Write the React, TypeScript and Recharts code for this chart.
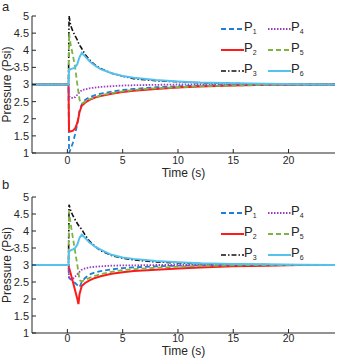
import React from "react";
import { LineChart, Line, XAxis, YAxis } from "recharts";

const TIME = [-3.2, 0.1, 0.15, 0.3, 0.5, 0.7, 0.9, 1.0, 1.1, 1.3, 1.6, 2, 2.5, 3, 4, 5, 6, 8, 10, 12, 15, 18, 21, 24.2];

const A_P1 = [3, 3, 1.0, 1.12, 1.3, 1.55, 1.85, 2.05, 2.25, 2.42, 2.55, 2.63, 2.69, 2.73, 2.79, 2.84, 2.87, 2.92, 2.95, 2.97, 2.99, 3, 3, 3];
const A_P2 = [3, 3, 1.65, 1.63, 1.65, 1.72, 1.88, 2.02, 2.2, 2.38, 2.47, 2.55, 2.62, 2.66, 2.73, 2.78, 2.82, 2.87, 2.91, 2.94, 2.97, 2.99, 3, 3];
const A_P3 = [3, 3, 5, 4.72, 4.55, 4.42, 4.3, 4.22, 4.15, 4.05, 3.88, 3.72, 3.57, 3.47, 3.33, 3.24, 3.17, 3.11, 3.08, 3.05, 3.03, 3.01, 3, 3];
const A_P4 = [3, 3, 2.66, 2.62, 2.6, 2.63, 2.7, 2.74, 2.78, 2.83, 2.86, 2.89, 2.91, 2.93, 2.95, 2.97, 2.98, 2.99, 3, 3, 3, 3, 3, 3];
const A_P5 = [3, 3, 4.5, 4.15, 3.85, 3.5, 3.0, 2.78, 2.55, 2.44, 2.5, 2.57, 2.63, 2.68, 2.75, 2.8, 2.84, 2.89, 2.92, 2.95, 2.97, 2.99, 3, 3];
const A_P6 = [3, 3, 3.42, 3.45, 3.47, 3.5, 3.6, 3.7, 3.8, 3.92, 3.82, 3.68, 3.55, 3.45, 3.33, 3.25, 3.2, 3.13, 3.09, 3.06, 3.04, 3.02, 3.01, 3];

const B_P1 = [3, 3, 2.62, 2.58, 2.53, 2.47, 2.41, 2.38, 2.35, 2.5, 2.62, 2.72, 2.78, 2.82, 2.87, 2.91, 2.93, 2.96, 2.98, 2.99, 3, 3, 3, 3];
const B_P2 = [3, 3, 2.92, 2.75, 2.5, 2.25, 2.0, 1.85, 2.15, 2.38, 2.47, 2.55, 2.62, 2.67, 2.74, 2.79, 2.82, 2.86, 2.9, 2.93, 2.96, 2.98, 3, 3];
const B_P3 = [3, 3, 4.77, 4.6, 4.45, 4.33, 4.22, 4.17, 4.12, 4.05, 3.88, 3.7, 3.55, 3.42, 3.28, 3.2, 3.15, 3.09, 3.06, 3.04, 3.02, 3.01, 3, 3];
const B_P4 = [3, 3, 2.6, 2.58, 2.6, 2.66, 2.73, 2.77, 2.8, 2.86, 2.9, 2.93, 2.95, 2.96, 2.98, 2.99, 2.99, 3, 3, 3, 3, 3, 3, 3];
const B_P5 = [3, 3, 4.58, 4.2, 3.8, 3.4, 3.0, 2.78, 2.55, 2.52, 2.56, 2.62, 2.68, 2.73, 2.8, 2.85, 2.88, 2.92, 2.95, 2.97, 2.99, 3, 3, 3];
const B_P6 = [3, 3, 3.4, 3.43, 3.46, 3.5, 3.6, 3.7, 3.8, 3.89, 3.8, 3.66, 3.54, 3.45, 3.3, 3.22, 3.18, 3.12, 3.08, 3.05, 3.03, 3.02, 3.01, 3];

const X_TICKS = [0, 5, 10, 15, 20];
const Y_TICKS = [1, 1.5, 2, 2.5, 3, 3.5, 4, 4.5, 5];
const X_DOMAIN: [number, number] = [-3.2, 24.2];

const SERIES = [
  { key: "p1", sub: "1", color: "#1f7fd6", dash: "5 3", width: 1.8 },
  { key: "p2", sub: "2", color: "#ff1a1a", dash: undefined, width: 2 },
  { key: "p3", sub: "3", color: "#111111", dash: "5 2 1.5 2", width: 1.6 },
  { key: "p4", sub: "4", color: "#9b3fbf", dash: "1.5 1.5", width: 1.8 },
  { key: "p5", sub: "5", color: "#7cb342", dash: "5 3", width: 1.8 },
  { key: "p6", sub: "6", color: "#55c1ef", dash: undefined, width: 2 },
];

// legend order: two columns, P1-P3 on the left, P4-P6 on the right
const LEGEND_ORDER = ["p1", "p4", "p2", "p5", "p3", "p6"];

const FONT = "'Liberation Sans', Arial, sans-serif";
const INK = "#262626";

function buildRows(cols: number[][]) {
  return TIME.map((t, i) => ({
    t,
    p1: cols[0][i],
    p2: cols[1][i],
    p3: cols[2][i],
    p4: cols[3][i],
    p5: cols[4][i],
    p6: cols[5][i],
  }));
}

function LegendBox({ top }: { top: number }) {
  return (
    <div
      style={{
        position: "absolute",
        left: 221,
        top,
        display: "grid",
        gridTemplateColumns: "47px 47px",
        fontFamily: FONT,
        fontSize: 13,
        color: INK,
      }}
    >
      {LEGEND_ORDER.map((k) => {
        const s = SERIES.find((x) => x.key === k)!;
        return (
          <div key={k} style={{ display: "flex", alignItems: "center", height: 21 }}>
            <svg width={23} height={6}>
              <line x1={0} y1={3} x2={23} y2={3} stroke={s.color} strokeWidth={s.width} strokeDasharray={s.dash} />
            </svg>
            <span style={{ marginLeft: 0, lineHeight: "13px" }}>
              P<sub style={{ fontSize: 7, verticalAlign: "-3px" }}>{s.sub}</sub>
            </span>
          </div>
        );
      })}
    </div>
  );
}

function Panel({ rows, top, height, labelOffset, tickGap }: { rows: any[]; top: number; height: number; labelOffset: number; tickGap: number }) {
  return (
    <LineChart
      width={339}
      height={height}
      data={rows}
      margin={{ top, right: 4, bottom: 4, left: 4 }}
      style={{ fontFamily: FONT }}
    >
      <XAxis
        dataKey="t"
        type="number"
        domain={X_DOMAIN}
        ticks={X_TICKS}
        allowDataOverflow
        height={25}
        stroke={INK}
        tickSize={-4}
        tickMargin={tickGap}
        tick={{ fill: INK, fontSize: 10.5 }}
        label={{ value: "Time (s)", position: "insideBottom", offset: labelOffset, fill: INK, fontSize: 12 }}
      />
      <XAxis
        xAxisId="top"
        dataKey="t"
        type="number"
        orientation="top"
        domain={X_DOMAIN}
        ticks={X_TICKS}
        allowDataOverflow
        height={0}
        stroke={INK}
        tickSize={-4}
        tickFormatter={() => ""}
      />
      <YAxis
        domain={[1, 5]}
        ticks={Y_TICKS}
        width={28}
        stroke={INK}
        tickSize={-4}
        tickMargin={7}
        tick={{ fill: INK, fontSize: 11 }}
        allowDataOverflow
        label={{ value: "Pressure (Psi)", angle: -90, position: "insideLeft", offset: 3, fill: INK, fontSize: 12, style: { textAnchor: "middle" } }}
      />
      <YAxis
        yAxisId="right"
        orientation="right"
        domain={[1, 5]}
        ticks={Y_TICKS}
        width={0}
        stroke={INK}
        tickSize={-4}
        tickFormatter={() => ""}
      />
      {SERIES.map((s) => (
        <Line
          key={s.key}
          dataKey={s.key}
          type="linear"
          stroke={s.color}
          strokeWidth={s.width}
          strokeDasharray={s.dash}
          dot={false}
          isAnimationActive={false}
        />
      ))}
    </LineChart>
  );
}

export default function App() {
  const rowsA = buildRows([A_P1, A_P2, A_P3, A_P4, A_P5, A_P6]);
  const rowsB = buildRows([B_P1, B_P2, B_P3, B_P4, B_P5, B_P6]);
  return (
    <div style={{ position: "absolute", left: 0, top: 0, width: 339, height: 358, background: "#fff", fontFamily: FONT, overflow: "hidden" }}>
      <div style={{ position: "absolute", left: 0, top: 0 }}>
        <Panel rows={rowsA} top={16} height={182} labelOffset={1} tickGap={8} />
      </div>
      <div style={{ position: "absolute", left: 0, top: 176 }}>
        <Panel rows={rowsB} top={21} height={186} labelOffset={3} tickGap={6} />
      </div>
      <LegendBox top={18} />
      <LegendBox top={202} />
      <div style={{ position: "absolute", left: 2, top: -1, fontSize: 13, color: INK }}>a</div>
      <div style={{ position: "absolute", left: 2, top: 177, fontSize: 13, color: INK }}>b</div>
    </div>
  );
}
